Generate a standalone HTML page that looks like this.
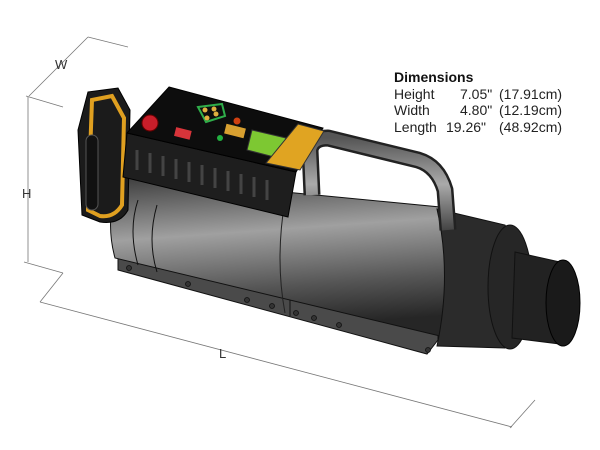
<!DOCTYPE html>
<html><head><meta charset="utf-8"><style>
html,body{margin:0;padding:0;background:#fff;width:600px;height:450px;overflow:hidden}
svg{display:block}
text{font-family:"Liberation Sans",sans-serif}
</style></head><body>
<svg width="600" height="450" viewBox="0 0 600 450">
<defs>
<linearGradient id="cyl" x1="0" y1="0" x2="0.15" y2="1">
<stop offset="0" stop-color="#3a3a3a"/><stop offset="0.4" stop-color="#a0a0a0"/><stop offset="0.75" stop-color="#555"/><stop offset="1" stop-color="#262626"/>
</linearGradient>
<linearGradient id="hd" x1="0" y1="0" x2="0" y2="1">
<stop offset="0" stop-color="#555"/><stop offset="0.5" stop-color="#aaa"/><stop offset="1" stop-color="#444"/>
</linearGradient>
</defs>
<g stroke="#777" stroke-width="0.8" fill="none">
<line x1="29" y1="96" x2="88" y2="37"/>
<line x1="88" y1="37" x2="128" y2="47"/>
<line x1="26" y1="96" x2="63" y2="107"/>
<line x1="28" y1="97" x2="28" y2="262"/>
<line x1="24" y1="262" x2="63" y2="273"/>
<line x1="40" y1="302" x2="512" y2="427"/>
<line x1="40" y1="302" x2="63" y2="273"/>
<line x1="510" y1="428" x2="535" y2="400"/>
</g>
<text x="55" y="69" font-size="13" fill="#333">W</text>
<text x="22" y="198" font-size="13" fill="#333">H</text>
<text x="219" y="358" font-size="13" fill="#333">L</text>
<text x="394" y="82" font-size="14" font-weight="bold" fill="#111">Dimensions</text>
<g font-size="14" fill="#222">
<text x="394" y="99">Height</text><text x="460" y="99">7.05"</text><text x="499" y="99">(17.91cm)</text>
<text x="394" y="115">Width</text><text x="460" y="115">4.80"</text><text x="499" y="115">(12.19cm)</text>
<text x="394" y="132">Length</text><text x="446" y="132">19.26"</text><text x="499" y="132">(48.92cm)</text>
</g>
<path d="M118 250 L438 330 L438 340 L427 354 L118 270 Z" fill="#4a4a4a" stroke="#111" stroke-width="1"/>
<line x1="290" y1="297" x2="290" y2="316" stroke="#111"/>
<g fill="#333" stroke="#111" stroke-width="0.8">
<circle cx="129" cy="268" r="2.5"/><circle cx="188" cy="284" r="2.5"/><circle cx="247" cy="300" r="2.5"/><circle cx="272" cy="306" r="2.5"/><circle cx="296" cy="313" r="2.5"/><circle cx="314" cy="318" r="2.5"/><circle cx="339" cy="325" r="2.5"/><circle cx="428" cy="350" r="2.5"/>
</g>
<path d="M120 176 L440 207 Q450 270 440 336 L115 258 Q104 218 120 176 Z" fill="url(#cyl)" stroke="#111" stroke-width="1"/>
<path d="M138 200 Q128 230 138 265" stroke="#111" fill="none"/>
<path d="M157 205 Q147 240 157 272" stroke="#111" fill="none"/>
<path d="M285 200 Q275 260 285 313" stroke="#222" fill="none"/>
<path d="M437 209 L505 225 Q535 285 505 348 L437 346 Q452 275 437 209 Z" fill="#2b2b2b" stroke="#111"/>
<ellipse cx="510" cy="287" rx="22" ry="62" fill="#262626" stroke="#111"/>
<path d="M515 252 L560 262 L560 344 L512 338 Z" fill="#222" stroke="#111"/>
<ellipse cx="563" cy="303" rx="17" ry="43" fill="#1a1a1a" stroke="#000"/>
<path d="M312 195 L310 150 Q312 138 328 138 L418 160 Q438 166 445 190 L448 230" fill="none" stroke="#222" stroke-width="17" stroke-linejoin="round"/>
<path d="M312 195 L310 150 Q312 138 328 138 L418 160 Q438 166 445 190 L448 230" fill="none" stroke="url(#hd)" stroke-width="12" stroke-linejoin="round"/>
<path d="M88 92 L118 88 L130 110 L128 210 Q120 225 100 222 L82 215 L78 130 Z" fill="#1b1b1b" stroke="#000"/>
<path d="M92 100 L112 96 L124 118 L122 205 Q114 218 100 216 L88 210 Z" fill="none" stroke="#e0a020" stroke-width="4"/>
<rect x="86" y="135" width="12" height="75" rx="6" fill="#111" stroke="#555"/>
<path d="M127 133 L296 172 L288 217 L123 177 Z" fill="#1e1e1e" stroke="#000"/>
<path d="M169 87 L323 128 L296 172 L127 133 Z" fill="#0d0d0d" stroke="#000"/>
<g stroke="#444" stroke-width="3">
<line x1="137" y1="150" x2="137" y2="170"/><line x1="150" y1="153" x2="150" y2="173"/><line x1="163" y1="156" x2="163" y2="176"/><line x1="176" y1="159" x2="176" y2="179"/><line x1="189" y1="162" x2="189" y2="182"/><line x1="202" y1="165" x2="202" y2="185"/><line x1="215" y1="168" x2="215" y2="188"/><line x1="228" y1="171" x2="228" y2="191"/><line x1="241" y1="174" x2="241" y2="194"/><line x1="254" y1="177" x2="254" y2="197"/><line x1="267" y1="180" x2="267" y2="200"/>
</g>
<circle cx="150" cy="123" r="8" fill="#c81e2a" stroke="#600"/>
<rect x="175" y="129" width="16" height="9" fill="#d8343a" transform="rotate(14 183 133)"/>
<path d="M198 107 L222 104 L225 116 L206 122 Z" fill="none" stroke="#2fae4a" stroke-width="2"/>
<circle cx="205" cy="110" r="2.5" fill="#e0b040"/><circle cx="214" cy="109" r="2.5" fill="#e0b040"/><circle cx="207" cy="118" r="2.5" fill="#e0b040"/><circle cx="216" cy="114" r="2.5" fill="#e0b040"/>
<rect x="225" y="126" width="20" height="10" fill="#d8a030" transform="rotate(14 235 131)"/>
<circle cx="237" cy="121" r="3.5" fill="#d04010"/>
<circle cx="220" cy="138" r="3" fill="#22b040"/>
<path d="M252 130 L286 138 L278 158 L247 150 Z" fill="#7dc832" stroke="#333"/>
<path d="M298 124 L324 131 L300 170 L266 163 Z" fill="#e0a422" stroke="#333"/>
</svg>
</body></html>
